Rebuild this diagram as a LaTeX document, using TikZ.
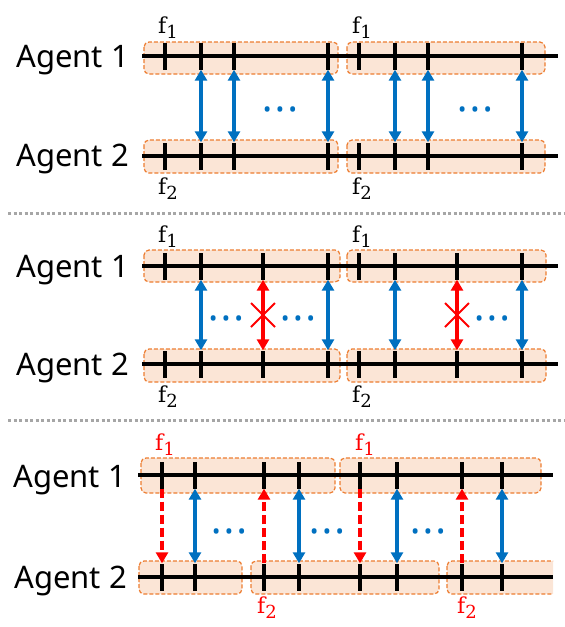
\documentclass[tikz,border=0pt]{standalone}
\usepackage{fontspec}
\setsansfont{Noto Sans}
\newfontfamily\labelfont{DejaVu Serif}
\usetikzlibrary{arrows.meta,shapes.misc,calc}

\definecolor{boxfill}{HTML}{FBE5D6}
\definecolor{boxline}{HTML}{ED7D31}
\definecolor{syncblue}{HTML}{0070C0}
\definecolor{lostred}{HTML}{FF0000}
\definecolor{sepgray}{HTML}{A6A6A6}

\newcommand{\fsub}[1]{f\raisebox{-5pt}{\fontsize{18}{18}\selectfont #1}}
\newcommand{\moredots}{•\hspace{4.5pt}•\hspace{4.5pt}•}

\begin{document}
\begin{tikzpicture}[
    x=1pt, y=-1pt,
    agent/.style={font=\sffamily\fontsize{31}{35}\selectfont,
                  anchor=base east, inner sep=0pt},
    fname/.style={font=\labelfont\fontsize{22}{26}\selectfont, inner sep=1pt},
    frame/.style={draw=boxline, fill=boxfill, line width=1.2pt,
                  dash pattern=on 4pt off 2pt, rounded corners=5pt},
    lane/.style={line width=4pt},
    tick/.style={fill=black, inner sep=0pt,
                 minimum width=3.6pt, minimum height=27pt},
    sync/.style={draw=syncblue, line width=3.5pt,
                 {Triangle[length=11pt,width=12pt]}-{Triangle[length=11pt,width=12pt]}},
    fail/.style={sync, draw=lostred},
    late/.style={draw=lostred, line width=3.5pt, dash pattern=on 9pt off 4pt,
                 -{Triangle[length=11pt,width=12pt]}},
    lost/.style={cross out, draw=lostred, line width=2pt,
                 minimum size=22pt, inner sep=0pt},
    more/.style={text=syncblue, font=\sffamily\fontsize{22}{22}\selectfont,
                 inner sep=0pt, anchor=base},
    sep/.style={draw=sepgray, line width=3pt, dash pattern=on 3pt off 2.5pt}]

  \useasboundingbox (0,0) rectangle (565,627);

  % first case
  \node[agent] (p1n1) at (129,67)  {Agent 1};
  \node[agent] (p1n2) at (129,166) {Agent 2};

  \path[frame] (144,42)  rectangle (338,74);
  \path[frame] (347,42)  rectangle (545,74);
  \path[frame] (144,140) rectangle (338,173);
  \path[frame] (347,140) rectangle (545,173);

  \draw[lane] (142,56)  -- (558,56);
  \draw[lane] (142,156) -- (558,156);

  \foreach \x [count=\i] in {165,201,234,328,359,395,428,522} {
    \node[tick] (p1u\i) at (\x,56)  {};
    \node[tick] (p1d\i) at (\x,156) {};
  }
  \foreach \i in {2,3,4,6,7,8}
    \draw[sync] (p1u\i) -- (p1d\i);

  \node[more] (p1m1) at (280,117) {\moredots};
  \node[more] (p1m2) at (475,117) {\moredots};

  \node[fname, anchor=south] (p1f1) at (168,40)  {\fsub{1}};
  \node[fname, anchor=south] (p1f3) at (362,40)  {\fsub{1}};
  \node[fname, anchor=north] (p1f2) at (168,177) {\fsub{2}};
  \node[fname, anchor=north] (p1f4) at (362,177) {\fsub{2}};

  \draw[sep] (8,213) -- (565,213);

  % second case
  \node[agent] (p2n1) at (129,277) {Agent 1};
  \node[agent] (p2n2) at (129,375) {Agent 2};

  \path[frame] (144,250) rectangle (340,282);
  \path[frame] (347,250) rectangle (546,282);
  \path[frame] (144,349) rectangle (340,382);
  \path[frame] (347,349) rectangle (546,382);

  \draw[lane] (142,266) -- (558,266);
  \draw[lane] (142,364) -- (558,364);

  \foreach \x [count=\i] in {165,201,263,328,359,395,457,522} {
    \node[tick] (p2u\i) at (\x,266) {};
    \node[tick] (p2d\i) at (\x,364) {};
  }
  \foreach \i in {2,4,6,8}
    \draw[sync] (p2u\i) -- (p2d\i);
  \draw[fail] (p2u3) -- (p2d3);
  \draw[fail] (p2u7) -- (p2d7);
  \node[lost] (p2x1) at ($(p2u3)!.5!(p2d3)$) {};
  \node[lost] (p2x2) at ($(p2u7)!.5!(p2d7)$) {};

  \node[more] (p2m1) at (226,326) {\moredots};
  \node[more] (p2m2) at (298,326) {\moredots};
  \node[more] (p2m3) at (492,326) {\moredots};

  \node[fname, anchor=south] (p2f1) at (168,249) {\fsub{1}};
  \node[fname, anchor=south] (p2f3) at (362,249) {\fsub{1}};
  \node[fname, anchor=north] (p2f2) at (168,385) {\fsub{2}};
  \node[fname, anchor=north] (p2f4) at (362,385) {\fsub{2}};

  \draw[sep] (8,420) -- (565,420);

  % third case
  \node[agent] (p3n1) at (126,487) {Agent 1};
  \node[agent] (p3n2) at (127,588) {Agent 2};

  \path[frame] (141,458) rectangle (335,493);
  \path[frame] (340,458) rectangle (541,493);
  \path[frame] (139,561) rectangle (242,594);
  \path[frame] (251,561) rectangle (439,594);
  \begin{scope}
    \clip (440,550) rectangle (553,605);
    \path[frame] (447,561) rectangle (580,594);
  \end{scope}

  \draw[lane] (138,475) -- (553,475);
  \draw[lane] (138,577) -- (553,577);

  \foreach \x [count=\i] in {162,195,264,299,360,397,462,502} {
    \node[tick] (p3u\i) at (\x,475) {};
    \node[tick] (p3d\i) at (\x,577) {};
  }
  \foreach \i in {2,4,6,8}
    \draw[sync] (p3u\i) -- (p3d\i);
  \draw[late] (p3u1) -- (p3d1);
  \draw[late] (p3d3) -- (p3u3);
  \draw[late] (p3u5) -- (p3d5);
  \draw[late] (p3d7) -- (p3u7);

  \node[more] (p3m1) at (229,539) {\moredots};
  \node[more] (p3m2) at (327,539) {\moredots};
  \node[more] (p3m3) at (428,539) {\moredots};

  \node[fname, text=lostred, anchor=south] (p3f1) at (165,457) {\fsub{1}};
  \node[fname, text=lostred, anchor=south] (p3f3) at (365,457) {\fsub{1}};
  \node[fname, text=lostred, anchor=north] (p3f2) at (267,596) {\fsub{2}};
  \node[fname, text=lostred, anchor=north] (p3f4) at (467,596) {\fsub{2}};

\end{tikzpicture}
\end{document}
